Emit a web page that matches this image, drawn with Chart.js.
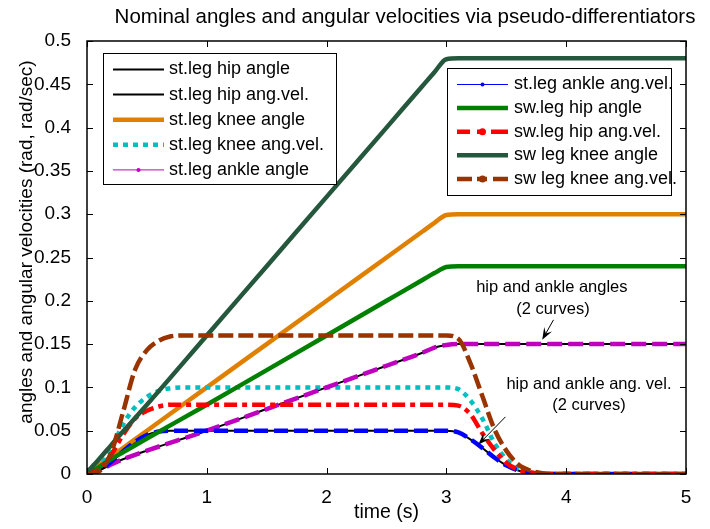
<!DOCTYPE html>
<html>
<head>
<meta charset="utf-8">
<script src="https://cdn.jsdelivr.net/npm/chart.js@4"></script>
<style>
  html, body { margin: 0; padding: 0; background: #fff; }
  canvas { display: block; }
</style>
</head>
<body>
<canvas id="grafica" width="710" height="529"></canvas>
<script>
// Datos

// tiempo (s) para las velocidades angulares
const tVel = [0, 0.1, 0.2, 0.3, 0.4, 0.5, 0.6, 0.7, 0.8, 1, 1.5, 2, 2.5, 3, 3.1, 3.2, 3.3, 3.4, 3.5, 3.6, 3.7, 3.8, 3.9, 4, 4.5, 5];
const stAnkleVel = [0, 0.004, 0.014, 0.026, 0.037, 0.045, 0.049, 0.05, 0.05, 0.05, 0.05, 0.05, 0.05, 0.05, 0.048, 0.04, 0.03, 0.019, 0.01, 0.004, 0.001, 0, 0, 0, 0, 0];
const stHipVel = stAnkleVel; // las dos curvas coinciden ("2 curves")
const stKneeVel = [0, 0.008, 0.029, 0.057, 0.077, 0.089, 0.096, 0.099, 0.1, 0.1, 0.1, 0.1, 0.1, 0.1, 0.098, 0.085, 0.064, 0.036, 0.017, 0.006, 0.002, 0, 0, 0, 0, 0];
const swHipVel = [0, 0.005, 0.022, 0.045, 0.064, 0.073, 0.078, 0.08, 0.08, 0.08, 0.08, 0.08, 0.08, 0.08, 0.079, 0.069, 0.047, 0.028, 0.013, 0.005, 0.002, 0, 0, 0, 0, 0];
const swKneeVel = [0, 0.003, 0.024, 0.071, 0.12, 0.143, 0.154, 0.159, 0.16, 0.16, 0.16, 0.16, 0.16, 0.16, 0.156, 0.128, 0.09, 0.052, 0.027, 0.011, 0.004, 0.001, 0, 0, 0, 0];

// tiempo (s) para los ángulos
const tAng = [0, 0.1, 0.2, 0.3, 0.5, 1, 1.5, 2, 2.5, 2.8, 2.9, 3, 3.1, 3.2, 4, 5];
const stAnkleAngle = [0, 0.004, 0.011, 0.017, 0.027, 0.05, 0.075, 0.1, 0.125, 0.14, 0.146, 0.149, 0.15, 0.15, 0.15, 0.15];
const stHipAngle = stAnkleAngle; // las dos curvas coinciden ("2 curves")
const stKneeAngle = [0, 0.01, 0.02, 0.03, 0.05, 0.1, 0.15, 0.2, 0.25, 0.28, 0.29, 0.299, 0.3, 0.3, 0.3, 0.3];
const swHipAngle = [0, 0.008, 0.017, 0.025, 0.041, 0.08, 0.12, 0.16, 0.2, 0.224, 0.232, 0.239, 0.24, 0.24, 0.24, 0.24];
const swKneeAngle = [0.002, 0.017, 0.033, 0.049, 0.08, 0.16, 0.24, 0.32, 0.4, 0.448, 0.464, 0.479, 0.48, 0.48, 0.48, 0.48];

const xTicks = [0, 1, 2, 3, 4, 5];
const yTicks = [0, 0.05, 0.1, 0.15, 0.2, 0.25, 0.3, 0.35, 0.4, 0.45, 0.5];

const FONT = '"Liberation Sans", Arial, sans-serif';

// Series: datos + estilo
const series = [
    { label: 'st.leg hip angle', t: tAng, v: stHipAngle, color: '#000000', width: 2, dash: [] },
    { label: 'st.leg hip ang.vel.', t: tVel, v: stHipVel, color: '#000000', width: 2, dash: [] },
    { label: 'st.leg knee angle', t: tAng, v: stKneeAngle, color: '#E08000', width: 4.5, dash: [] },
    { label: 'st.leg knee ang.vel.', t: tVel, v: stKneeVel, color: '#00BFBF', width: 4.5, dash: [5, 5] },
    { label: 'st.leg ankle angle', t: tAng, v: stAnkleAngle, color: '#BF00BF', width: 4.5, dash: [15, 6],
      legendWidth: 1, legendDash: [], marker: 2 },
    { label: 'st.leg ankle ang.vel.', t: tVel, v: stAnkleVel, color: '#0000FF', width: 4.5, dash: [14, 6],
      legendWidth: 1, legendDash: [], marker: 2 },
    { label: 'sw.leg hip angle', t: tAng, v: swHipAngle, color: '#008000', width: 4.5, dash: [] },
    { label: 'sw.leg hip ang.vel.', t: tVel, v: swHipVel, color: '#FF0000', width: 4.5, dash: [13, 5, 5, 5],
      legendSegs: [[0, 13], [20, 24], [34, 51]], marker: 3.5 },
    { label: 'sw leg knee angle', t: tAng, v: swKneeAngle, color: '#24573C', width: 4.5, dash: [] },
    { label: 'sw leg knee ang.vel.', t: tVel, v: swKneeVel, color: '#993300', width: 4.5, dash: [15, 5],
      legendSegs: [[0, 15], [20, 30], [36, 51]], marker: 3.5 }
];

// Anotaciones (coordenadas en unidades de datos)
const notas = [
    { text: 'hip and ankle angles', x: 3.88, y: 0.215 },
    { text: '(2 curves)', x: 3.89, y: 0.190 },
    { text: 'hip and ankle ang. vel.', x: 4.19, y: 0.103 },
    { text: '(2 curves)', x: 4.19, y: 0.079 }
];
const flechas = [
    { from: [3.894, 0.178], to: [3.80, 0.155] },
    { from: [3.493, 0.066], to: [3.267, 0.034] }
];

function puntos(t, v) {
    return t.map((x, i) => ({ x: x, y: v[i] }));
}

function drawSample(ctx, s, x0, x1, yy) {
    ctx.save();
    ctx.strokeStyle = s.color;
    ctx.fillStyle = s.color;
    ctx.lineWidth = s.legendWidth || s.width;
    ctx.lineCap = 'butt';
    ctx.beginPath();
    if (s.legendSegs) {
        s.legendSegs.forEach(([a, b]) => {
            ctx.moveTo(x0 + a, yy);
            ctx.lineTo(x0 + b, yy);
        });
    } else {
        ctx.setLineDash(s.legendDash || s.dash);
        ctx.moveTo(x0, yy);
        ctx.lineTo(x1, yy);
    }
    ctx.stroke();
    if (s.marker) {
        ctx.beginPath();
        ctx.arc((x0 + x1) / 2, yy, s.marker, 0, Math.PI * 2);
        ctx.fill();
    }
    ctx.restore();
}

function drawLegend(ctx, items, box, rowY, rowGap, sampleX, textX) {
    ctx.save();
    ctx.fillStyle = '#fff';
    ctx.fillRect(box.x, box.y, box.w, box.h);
    ctx.strokeStyle = '#000';
    ctx.lineWidth = 1;
    ctx.strokeRect(box.x + 0.5, box.y + 0.5, box.w, box.h);
    ctx.font = '18px ' + FONT;
    ctx.textBaseline = 'middle';
    ctx.textAlign = 'left';
    items.forEach((s, i) => {
        const yy = rowY + i * rowGap;
        drawSample(ctx, s, sampleX, sampleX + 51, yy);
        ctx.fillStyle = '#000';
        ctx.fillText(s.label, textX, yy);
    });
    ctx.restore();
}

function drawArrow(ctx, x1, y1, x2, y2) {
    const ang = Math.atan2(y2 - y1, x2 - x1);
    const L = 12, W = 4.5;
    ctx.beginPath();
    ctx.moveTo(x1, y1);
    ctx.lineTo(x2 - Math.cos(ang) * 6, y2 - Math.sin(ang) * 6);
    ctx.stroke();
    ctx.beginPath();
    ctx.moveTo(x2, y2);
    ctx.lineTo(x2 - L * Math.cos(ang) + W * Math.sin(ang), y2 - L * Math.sin(ang) - W * Math.cos(ang));
    ctx.lineTo(x2 - 0.6 * L * Math.cos(ang), y2 - 0.6 * L * Math.sin(ang));
    ctx.lineTo(x2 - L * Math.cos(ang) - W * Math.sin(ang), y2 - L * Math.sin(ang) + W * Math.cos(ang));
    ctx.closePath();
    ctx.fill();
}

const extras = {
    id: 'extras',
    afterDatasetsDraw(chart) {
        const { ctx, chartArea: a, scales: { x, y } } = chart;
        ctx.save();

        // marco y marcas hacia dentro
        ctx.strokeStyle = '#000';
        ctx.lineWidth = 1.5;
        ctx.strokeRect(a.left, a.top, a.right - a.left, a.bottom - a.top);
        ctx.lineWidth = 1;
        ctx.beginPath();
        xTicks.forEach(v => {
            const px = Math.round(x.getPixelForValue(v)) + 0.5;
            ctx.moveTo(px, a.bottom); ctx.lineTo(px, a.bottom - 6);
            ctx.moveTo(px, a.top); ctx.lineTo(px, a.top + 6);
        });
        yTicks.forEach(v => {
            const py = Math.round(y.getPixelForValue(v)) + 0.5;
            ctx.moveTo(a.left, py); ctx.lineTo(a.left + 6, py);
            ctx.moveTo(a.right, py); ctx.lineTo(a.right - 6, py);
        });
        ctx.stroke();

        // anotaciones
        ctx.fillStyle = '#000';
        ctx.font = '16.5px ' + FONT;
        ctx.textAlign = 'center';
        ctx.textBaseline = 'middle';
        notas.forEach(n => ctx.fillText(n.text, x.getPixelForValue(n.x), y.getPixelForValue(n.y)));
        ctx.lineWidth = 1;
        flechas.forEach(f => drawArrow(ctx,
            x.getPixelForValue(f.from[0]), y.getPixelForValue(f.from[1]),
            x.getPixelForValue(f.to[0]), y.getPixelForValue(f.to[1])));

        // leyendas
        drawLegend(ctx, series.slice(0, 5), { x: 103, y: 53, w: 233, h: 131 }, 69.5, 25.1, 113, 169);
        drawLegend(ctx, series.slice(5), { x: 447, y: 68, w: 224, h: 127 }, 84.5, 23.6, 457, 514);

        // título y etiquetas de ejes
        ctx.fillStyle = '#000';
        ctx.textAlign = 'center';
        ctx.textBaseline = 'middle';
        ctx.font = '20.5px ' + FONT;
        ctx.fillText('Nominal angles and angular velocities via pseudo-differentiators', 405, 17);
        ctx.font = '19.5px ' + FONT;
        ctx.fillText('time (s)', (a.left + a.right) / 2, 513);
        ctx.translate(27, 242);
        ctx.rotate(-Math.PI / 2);
        ctx.font = '19px ' + FONT;
        ctx.fillText('angles and angular velocities (rad, rad/sec)', 0, 0);
        ctx.restore();
    }
};

const ctx = document.getElementById('grafica').getContext('2d');
const chart = new Chart(ctx, {
    type: 'line',
    data: {
        datasets: series.map((s, i) => ({
            label: s.label,
            data: puntos(s.t, s.v),
            borderColor: s.color,
            backgroundColor: s.color,
            borderWidth: s.width,
            borderDash: s.dash,
            borderCapStyle: 'butt',
            pointRadius: 0,
            cubicInterpolationMode: 'monotone',
            fill: false,
            clip: 0,
            order: series.length - i
        }))
    },
    options: {
        responsive: false,
        animation: false,
        layout: { padding: { top: 41, right: 24, left: 0, bottom: 0 } },
        plugins: {
            legend: { display: false },
            title: { display: false },
            tooltip: { enabled: false }
        },
        scales: {
            x: {
                type: 'linear',
                min: 0,
                max: 5,
                afterFit: (scale) => { scale.height = 55; },
                afterBuildTicks: (scale) => { scale.ticks = xTicks.map(v => ({ value: v })); },
                grid: { display: false },
                border: { display: false },
                ticks: {
                    color: '#000',
                    padding: 4,
                    maxRotation: 0,
                    font: { family: FONT, size: 19 }
                }
            },
            y: {
                min: 0,
                max: 0.5,
                afterFit: (scale) => { scale.width = 87; },
                afterBuildTicks: (scale) => { scale.ticks = yTicks.map(v => ({ value: v })); },
                grid: { display: false },
                border: { display: false },
                ticks: {
                    color: '#000',
                    padding: 8,
                    font: { family: FONT, size: 19 },
                    callback: (value) => String(parseFloat(value.toFixed(2)))
                }
            }
        }
    },
    plugins: [extras]
});
</script>
</body>
</html>
